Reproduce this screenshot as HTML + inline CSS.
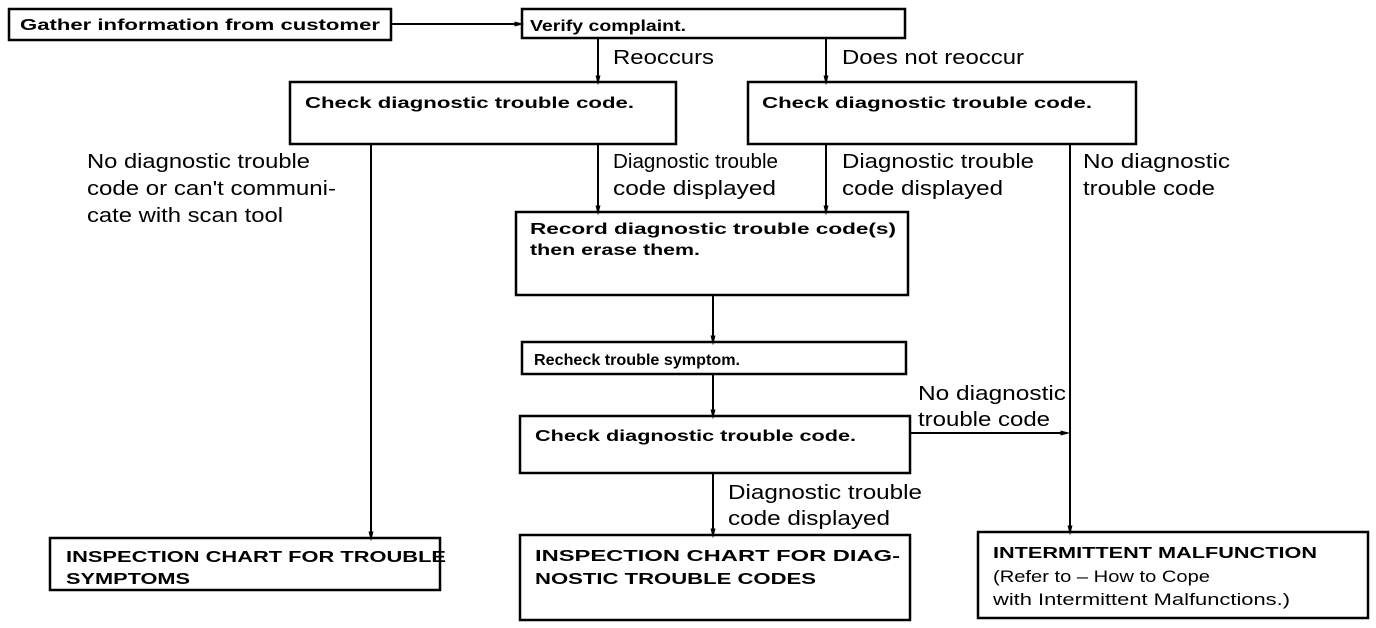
<!DOCTYPE html>
<html><head><meta charset="utf-8"><style>
html,body{margin:0;padding:0;background:#fff}
svg{display:block}
.b{font-family:"Liberation Sans",sans-serif;font-weight:bold;font-size:16px}
.l{font-family:"Liberation Sans",sans-serif;font-size:20px}
rect{fill:none;stroke:#000;stroke-width:2.5}
line{stroke:#000;stroke-width:2}
</style></head><body>
<svg width="1376" height="628" viewBox="0 0 1376 628" xmlns="http://www.w3.org/2000/svg">
<defs><marker id="a" markerWidth="10" markerHeight="16" refX="9" refY="5" orient="auto" markerUnits="userSpaceOnUse" viewBox="0 0 16 10"><path d="M0,1 L16,5 L0,9 z" fill="#000"/></marker></defs>
<rect x="9" y="9" width="382" height="31"/>
<rect x="522" y="9" width="383" height="29"/>
<rect x="290" y="82" width="386" height="62"/>
<rect x="748" y="82" width="388" height="62"/>
<rect x="516" y="212" width="392" height="83"/>
<rect x="522" y="342" width="384" height="32"/>
<rect x="520" y="416" width="390" height="57"/>
<rect x="50" y="538" width="390" height="52"/>
<rect x="520" y="535" width="390" height="85"/>
<rect x="978" y="532" width="390" height="86"/>
<line x1="391" y1="24" x2="520" y2="24" marker-end="url(#a)"/>
<line x1="598" y1="38" x2="598" y2="81" marker-end="url(#a)"/>
<line x1="826" y1="38" x2="826" y2="81" marker-end="url(#a)"/>
<line x1="371" y1="144" x2="371" y2="537" marker-end="url(#a)"/>
<line x1="598" y1="144" x2="598" y2="211" marker-end="url(#a)"/>
<line x1="826" y1="144" x2="826" y2="211" marker-end="url(#a)"/>
<line x1="1070" y1="144" x2="1070" y2="531" marker-end="url(#a)"/>
<line x1="713" y1="295" x2="713" y2="341" marker-end="url(#a)"/>
<line x1="713" y1="374" x2="713" y2="415" marker-end="url(#a)"/>
<line x1="713" y1="473" x2="713" y2="534" marker-end="url(#a)"/>
<line x1="910" y1="433" x2="1066" y2="433" marker-end="url(#a)"/>
<g class="b">
<text x="20" y="30" textLength="360" lengthAdjust="spacingAndGlyphs">Gather information from customer</text>
<text x="530" y="31" textLength="156" lengthAdjust="spacingAndGlyphs">Verify  complaint.</text>
<text x="305" y="108" textLength="329" lengthAdjust="spacingAndGlyphs">Check diagnostic trouble code.</text>
<text x="762" y="108" textLength="330" lengthAdjust="spacingAndGlyphs">Check diagnostic trouble code.</text>
<text x="530" y="234" textLength="366" lengthAdjust="spacingAndGlyphs">Record diagnostic trouble code(s)</text>
<text x="530" y="255" textLength="170" lengthAdjust="spacingAndGlyphs">then erase them.</text>
<text x="534" y="365" textLength="206" lengthAdjust="spacingAndGlyphs">Recheck trouble symptom.</text>
<text x="535" y="441" textLength="321" lengthAdjust="spacingAndGlyphs">Check diagnostic trouble code.</text>
<text x="66" y="562" textLength="380" lengthAdjust="spacingAndGlyphs">INSPECTION CHART FOR TROUBLE</text>
<text x="66" y="584" textLength="124" lengthAdjust="spacingAndGlyphs">SYMPTOMS</text>
<text x="535" y="561" textLength="365" lengthAdjust="spacingAndGlyphs">INSPECTION  CHART  FOR  DIAG-</text>
<text x="535" y="584" textLength="281" lengthAdjust="spacingAndGlyphs">NOSTIC TROUBLE CODES</text>
<text x="993" y="558" textLength="324" lengthAdjust="spacingAndGlyphs">INTERMITTENT MALFUNCTION</text>
</g>
<g class="l" style="font-size:17px">
<text x="993" y="582" textLength="217" lengthAdjust="spacingAndGlyphs">(Refer to – How to Cope</text>
<text x="993" y="605" textLength="297" lengthAdjust="spacingAndGlyphs">with Intermittent Malfunctions.)</text>
</g>
<g class="l">
<text x="613" y="64" textLength="101" lengthAdjust="spacingAndGlyphs">Reoccurs</text>
<text x="842" y="64" textLength="182" lengthAdjust="spacingAndGlyphs">Does not reoccur</text>
<text x="87" y="168" textLength="223" lengthAdjust="spacingAndGlyphs">No diagnostic trouble</text>
<text x="87" y="195" textLength="249" lengthAdjust="spacingAndGlyphs">code or can't communi-</text>
<text x="87" y="222" textLength="196" lengthAdjust="spacingAndGlyphs">cate with scan tool</text>
<text x="613" y="168" textLength="165" lengthAdjust="spacingAndGlyphs">Diagnostic trouble</text>
<text x="613" y="195" textLength="163" lengthAdjust="spacingAndGlyphs">code displayed</text>
<text x="842" y="168" textLength="192" lengthAdjust="spacingAndGlyphs">Diagnostic trouble</text>
<text x="842" y="195" textLength="161" lengthAdjust="spacingAndGlyphs">code displayed</text>
<text x="1083" y="168" textLength="147" lengthAdjust="spacingAndGlyphs">No diagnostic</text>
<text x="1083" y="195" textLength="132" lengthAdjust="spacingAndGlyphs">trouble code</text>
<text x="918" y="400" textLength="148" lengthAdjust="spacingAndGlyphs">No diagnostic</text>
<text x="918" y="426" textLength="132" lengthAdjust="spacingAndGlyphs">trouble code</text>
<text x="728" y="499" textLength="194" lengthAdjust="spacingAndGlyphs">Diagnostic trouble</text>
<text x="728" y="525" textLength="162" lengthAdjust="spacingAndGlyphs">code displayed</text>
</g>
</svg>
</body></html>
